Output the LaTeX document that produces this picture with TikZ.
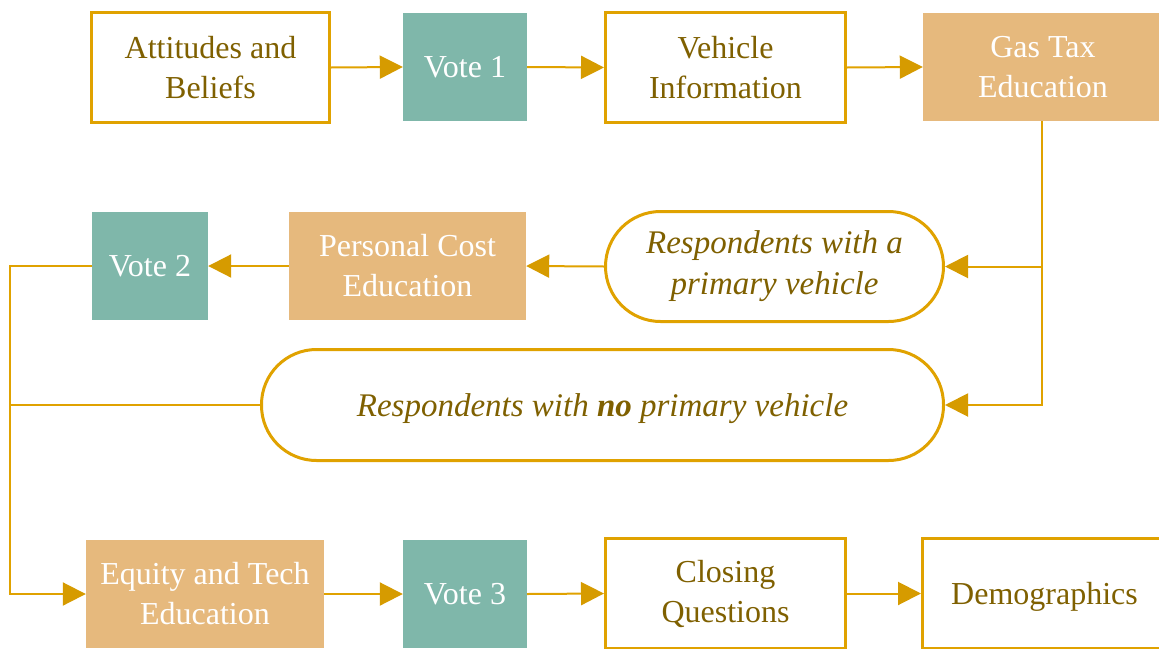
\documentclass[tikz,border=0pt]{standalone}
\usepackage{fontspec}
\setmainfont{Liberation Serif}
\usetikzlibrary{arrows.meta}
\definecolor{gold}{RGB}{224,162,0}
\definecolor{goldtip}{RGB}{214,155,0}
\definecolor{teal}{RGB}{127,183,170}
\definecolor{tan}{RGB}{230,185,125}
\definecolor{brown}{RGB}{127,96,0}
\tikzset{
  base/.style={rectangle, align=center, inner sep=0pt, font=\fontsize{32}{40}\selectfont},
  outl/.style={base, draw=gold, line width=3pt, fill=white, text=brown},
  votebox/.style={base, fill=teal, text=white},
  edubox/.style={base, fill=tan, text=white},
  pill/.style={base, draw=gold, line width=3pt, fill=white, text=brown, rounded corners=55pt, font=\fontsize{33}{41}\selectfont\itshape},
  conn/.style={draw=gold, line width=2pt},
  arr/.style={conn, -{Triangle[length=23pt,width=23pt,color=goldtip]}},
}
\begin{document}
\begin{tikzpicture}[x=1pt,y=-1pt]
\useasboundingbox (0,0) rectangle (1159,648);
% top row
\node[outl, minimum width=238pt, minimum height=110pt] (att) at (210.5,67.5) {Attitudes and\\Beliefs};
\node[votebox, minimum width=124pt, minimum height=108pt] (v1) at (465,67) {Vote 1};
\node[outl, minimum width=240pt, minimum height=110pt] (veh) at (725.5,67.5) {Vehicle\\Information};
\node[edubox, minimum width=240pt, minimum height=108pt] (gas) at (1043,67) {Gas Tax\\Education};
% second row
\node[votebox, minimum width=116pt, minimum height=108pt] (v2) at (150,266) {Vote 2};
\node[edubox, minimum width=237pt, minimum height=108pt] (pc) at (407.5,266) {Personal Cost\\Education};
\node[pill, minimum width=338pt, minimum height=110pt] (s1) at (774.5,266.5) {Respondents with a\\primary vehicle};
% third row
\node[pill, minimum width=682pt, minimum height=111pt, text depth=0pt] (s2) at (602.5,405) {Respondents with \textbf{no} primary vehicle};
% bottom row
\node[edubox, minimum width=238pt, minimum height=108pt] (eq) at (205,594) {Equity and Tech\\Education};
\node[votebox, minimum width=124pt, minimum height=108pt] (v3) at (465,594) {Vote 3};
\node[outl, minimum width=240pt, minimum height=110pt] (cl) at (725.5,593.5) {Closing\\Questions};
\node[outl, minimum width=244pt, minimum height=110pt, text depth=0pt] (dem) at (1044.5,593.5) {Demographics};
% connectors
\coordinate (L) at (10,266);
\coordinate (D) at (1042,121);
\draw[arr] (att.east) -- (v1.west);
\draw[arr] (v1.east) -- (veh.west);
\draw[arr] (veh.east) -- (gas.west);
\draw[arr] (D) |- (s1.east);
\draw[arr] (D) |- (s2.east);
\draw[arr] (s1.west) -- (pc.east);
\draw[arr] (pc.west) -- (v2.east);
\draw[arr] (v2.west) -- (L) |- (eq.west);
\draw[conn] (s2.west) -- (s2.west -| L);
\draw[arr] (eq.east) -- (v3.west);
\draw[arr] (v3.east) -- (cl.west);
\draw[arr] (cl.east) -- (dem.west);
\end{tikzpicture}
\end{document}
